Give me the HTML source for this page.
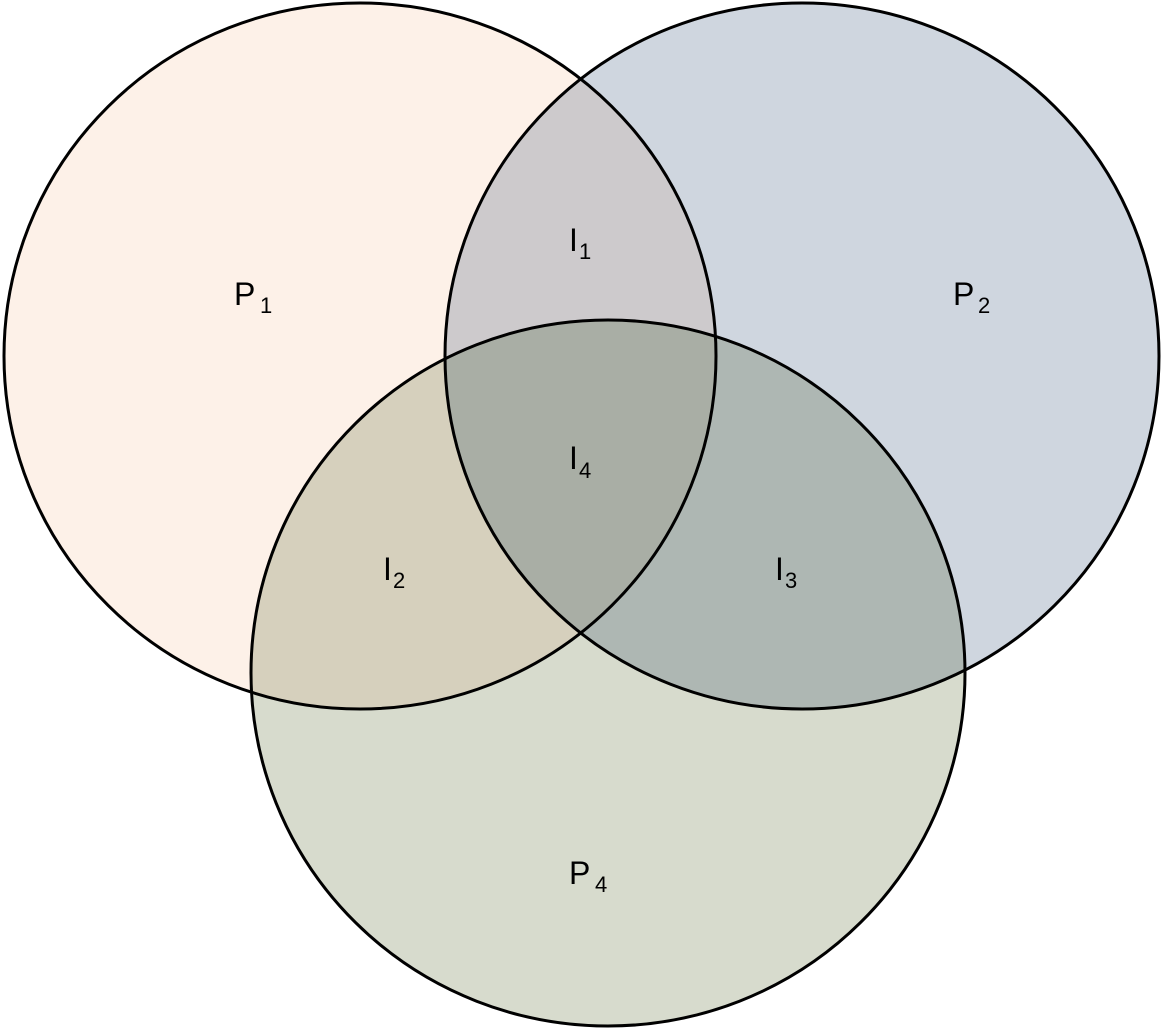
<!DOCTYPE html>
<html><head><meta charset="utf-8"><style>html,body{margin:0;padding:0;background:#fff}svg{display:block}</style></head>
<body>
<svg width="1162" height="1029" viewBox="0 0 1162 1029" xmlns="http://www.w3.org/2000/svg">
<defs>
<clipPath id="c1"><ellipse cx="360" cy="356" rx="356" ry="353"/></clipPath>
<clipPath id="c2"><ellipse cx="802" cy="356" rx="357" ry="353"/></clipPath>
<clipPath id="c4"><ellipse cx="608" cy="673" rx="357" ry="353"/></clipPath>
</defs>
<ellipse cx="360" cy="356" rx="356" ry="353" fill="#fdf1e8"/>
<ellipse cx="802" cy="356" rx="357" ry="353" fill="#cfd6df"/>
<ellipse cx="608" cy="673" rx="357" ry="353" fill="#d7dbcd"/>
<g clip-path="url(#c1)"><ellipse cx="802" cy="356" rx="357" ry="353" fill="#cdcacc"/></g>
<g clip-path="url(#c1)"><ellipse cx="608" cy="673" rx="357" ry="353" fill="#d6d0bd"/></g>
<g clip-path="url(#c2)"><ellipse cx="608" cy="673" rx="357" ry="353" fill="#aeb7b3"/></g>
<g clip-path="url(#c1)"><g clip-path="url(#c2)"><ellipse cx="608" cy="673" rx="357" ry="353" fill="#a9aea5"/></g></g>
<g fill="none" stroke="#000" stroke-width="3">
<ellipse cx="360" cy="356" rx="356" ry="353"/>
<ellipse cx="802" cy="356" rx="357" ry="353"/>
<ellipse cx="608" cy="673" rx="357" ry="353"/>
</g>
<g font-family="Liberation Sans, Arial, sans-serif" fill="#000">
<text x="234" y="305" font-size="32">P</text><text x="260" y="313" font-size="22">1</text>
<text x="953" y="305" font-size="32">P</text><text x="978" y="313" font-size="22">2</text>
<text x="569" y="884" font-size="32">P</text><text x="595" y="892" font-size="22">4</text>
<text x="569" y="251" font-size="32">I</text><text x="579" y="259" font-size="22">1</text>
<text x="569" y="469" font-size="32">I</text><text x="579" y="478" font-size="22">4</text>
<text x="383" y="580" font-size="32">I</text><text x="393" y="588" font-size="22">2</text>
<text x="775" y="580" font-size="32">I</text><text x="785" y="588" font-size="22">3</text>
</g>
</svg>
</body></html>
